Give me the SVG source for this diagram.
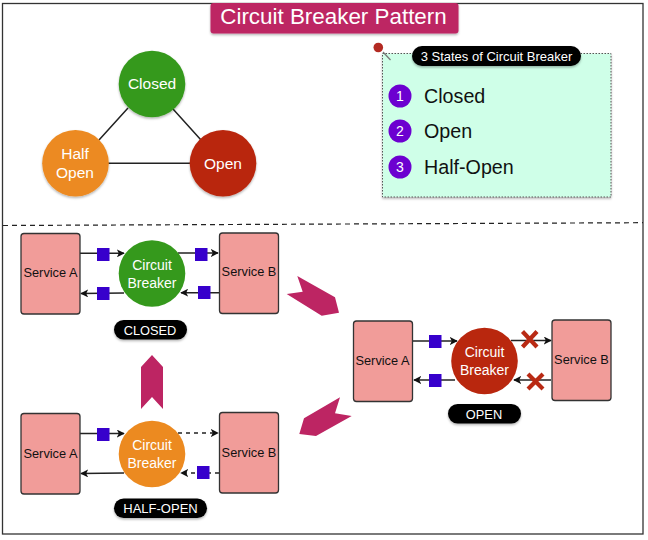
<svg xmlns="http://www.w3.org/2000/svg" width="648" height="540" viewBox="0 0 648 540">
<style>
text{font-family:"Liberation Sans",Arial,sans-serif;text-anchor:middle}
.w{fill:#fff}
.k{fill:#111}
.svc{fill:#f19c99;stroke:#333;stroke-width:1.3}
.ln{fill:none;stroke:#222;stroke-width:1.5}
.ds{stroke-dasharray:4 4}
.sq{fill:#3700cc}
.pill{fill:#000}
.pink{fill:#bd2563}
.x{fill:none;stroke:#b92a14;stroke-width:4.2}
.g{fill:#35991c}.o{fill:#ec8a20}.r{fill:#b9270e}
.num{fill:#6c00d0}
.sh{filter:url(#s)}
</style>
<defs>
<filter id="s" x="-20%" y="-20%" width="140%" height="150%"><feDropShadow dx="0" dy="1.5" stdDeviation="1.2" flood-color="#000" flood-opacity=".3"/></filter>
<marker id="a" viewBox="0 0 10 10" refX="9" refY="5" markerWidth="8" markerHeight="8" markerUnits="userSpaceOnUse" orient="auto"><path d="M0 0L10 5L0 10L2.5 5Z" fill="#111"/></marker>
</defs>
<rect width="648" height="540" fill="#fff"/>
<rect id="frame" x="2.5" y="3.5" width="640.500" height="530.500" fill="none" stroke="#333" stroke-width="1.3"/>
<path id="divider" d="M3 225.500L643 222.700" fill="none" stroke="#222" stroke-width="1.200" stroke-dasharray="5 4"/>
<g id="title"><rect class="pink sh" x="210.500" y="3" width="248" height="30.500" rx="3"/><text class="w" x="333.500" y="23.500" font-size="22.400">Circuit Breaker Pattern</text></g>

<g id="triangle-edges"><path class="ln" d="M128 108L99 140M173 109L201 140M108 163.300H191" stroke="#444"/></g>
<g id="state-closed"><circle class="g sh" cx="152" cy="84" r="33.300"/><text class="w" x="152" y="89" font-size="15.500">Closed</text></g>
<g id="state-half"><circle class="o sh" cx="75.500" cy="163.300" r="33.300"/><text class="w" font-size="15.500"><tspan x="75" y="159">Half</tspan><tspan x="75" y="178">Open</tspan></text></g>
<g id="state-open"><circle class="r sh" cx="223" cy="163.300" r="33.300"/><text class="w" x="223" y="168.500" font-size="15.500">Open</text></g>

<g id="note">
<rect class="sh" x="382.500" y="53.500" width="228.500" height="143.500" fill="#cfffe8" stroke="#555" stroke-width="1" stroke-dasharray="1.500 1.500"/>
<path d="M383 52L390.500 60" stroke="#777" stroke-width="1.200"/>
<circle cx="378.300" cy="47.500" r="4.800" fill="#b32a22"/>
<rect class="pill sh" x="412" y="46" width="169" height="20" rx="10"/>
<text class="w" x="496.500" y="61" font-size="13">3 States of Circuit Breaker</text>
<circle class="num" cx="400" cy="96" r="11.500"/><text class="w" x="400" y="101" font-size="14">1</text>
<circle class="num" cx="400" cy="131" r="11.500"/><text class="w" x="400" y="136" font-size="14">2</text>
<circle class="num" cx="400" cy="167" r="11.500"/><text class="w" x="400" y="172" font-size="14">3</text>
<text class="k" x="424" y="103" font-size="19.700" style="text-anchor:start">Closed</text>
<text class="k" x="424" y="138" font-size="19.700" style="text-anchor:start">Open</text>
<text class="k" x="424" y="174" font-size="19.700" style="text-anchor:start">Half-Open</text>
</g>

<g id="connectors">
<path class="ln" marker-end="url(#a)" d="M80 253.300H124"/>
<path class="ln" marker-end="url(#a)" d="M178 253H218"/>
<path class="ln" marker-end="url(#a)" d="M219 292.700H181"/>
<path class="ln" marker-end="url(#a)" d="M124 293L81 293.500"/>
<path class="ln" marker-end="url(#a)" d="M412 341H457"/>
<path class="ln" marker-end="url(#a)" d="M511 340.500H551"/>
<path class="ln" marker-end="url(#a)" d="M551 380H514"/>
<path class="ln" marker-end="url(#a)" d="M455 380H414"/>
<path class="ln" marker-end="url(#a)" d="M80 433.500H124"/>
<path class="ln ds" marker-end="url(#a)" d="M178 433H218"/>
<path class="ln ds" marker-end="url(#a)" d="M219 473H181"/>
<path class="ln" marker-end="url(#a)" d="M124 473L81 473.500"/>
</g>

<g id="transitions" class="pink">
<path d="M297.300 276L335 297.300L339 312.700L321.700 315.700L286.700 294L302.700 291.700Z"/>
<path d="M152 355L163 367V409L152 397L141 409V367Z"/>
<path d="M340 397.300L335 413.300L351.700 416L316 436L299.300 434L304 418.300Z"/>
</g>

<g id="closed-group">
<rect class="svc" x="21" y="233.500" width="59" height="80.500" rx="3"/><text class="k" x="50.500" y="277" font-size="12.800">Service A</text>
<rect class="svc" x="219.500" y="233" width="59" height="80.500" rx="3"/><text class="k" x="249" y="276" font-size="12.800">Service B</text>
<circle class="g" cx="152" cy="273.500" r="33.300"/><text class="w" font-size="14"><tspan x="152" y="270">Circuit</tspan><tspan x="152" y="288">Breaker</tspan></text>
<rect class="sq" x="97" y="248" width="12.500" height="13"/><rect class="sq" x="195" y="248" width="12.500" height="13"/><rect class="sq" x="198" y="286" width="12.500" height="13"/><rect class="sq" x="97" y="287" width="12.500" height="13"/>
<rect class="pill sh" x="114" y="320" width="73" height="19.500" rx="9.700"/><text class="w" x="150" y="335" font-size="12.800">CLOSED</text>
</g>

<g id="open-group">
<rect class="svc" x="353.500" y="321" width="59" height="80.500" rx="3"/><text class="k" x="382.500" y="365" font-size="12.800">Service A</text>
<rect class="svc" x="552" y="320" width="59" height="80.500" rx="3"/><text class="k" x="581.500" y="364" font-size="12.800">Service B</text>
<circle class="r" cx="484.500" cy="361" r="33.300"/><text class="w" font-size="14"><tspan x="484.500" y="357">Circuit</tspan><tspan x="484.500" y="375">Breaker</tspan></text>
<rect class="sq" x="429" y="335" width="12.500" height="13"/><rect class="sq" x="429" y="374" width="12.500" height="13"/>
<path class="x" d="M522.500 331.500L537 347M537 331.500L522.500 347M528 374L543 389M543 374L528 389"/>
<rect class="pill sh" x="448" y="404" width="73" height="19.500" rx="9.700"/><text class="w" x="484" y="418.500" font-size="12.800">OPEN</text>
</g>

<g id="half-open-group">
<rect class="svc" x="21" y="413.500" width="59" height="80.500" rx="3"/><text class="k" x="50.500" y="457.500" font-size="12.800">Service A</text>
<rect class="svc" x="219.500" y="412.500" width="59" height="80.500" rx="3"/><text class="k" x="249" y="457" font-size="12.800">Service B</text>
<circle class="o" cx="152" cy="454" r="33.300"/><text class="w" font-size="14"><tspan x="152" y="450">Circuit</tspan><tspan x="152" y="468">Breaker</tspan></text>
<rect class="sq" x="97" y="428" width="12.500" height="13"/><rect class="sq" x="197" y="466" width="12.500" height="13"/>
<rect class="pill sh" x="114" y="498.500" width="93" height="19.500" rx="9.700"/><text class="w" x="160.500" y="513" font-size="13">HALF-OPEN</text>
</g>
</svg>
